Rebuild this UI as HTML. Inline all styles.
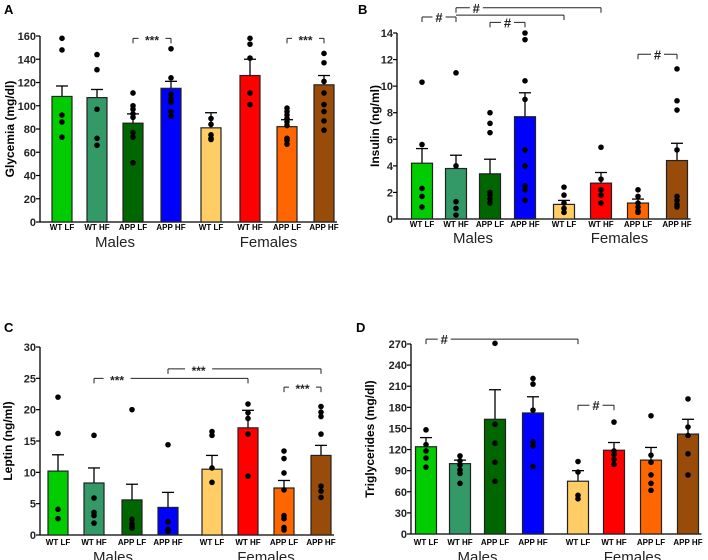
<!DOCTYPE html>
<html><head><meta charset="utf-8">
<style>
body{margin:0;background:#fff;}
svg{display:block;font-family:"Liberation Sans",Arial,sans-serif;}
</style></head>
<body>
<svg id="chart" width="708" height="560" viewBox="0 0 708 560" xmlns="http://www.w3.org/2000/svg"></svg>
<script>
const groups = ["WT LF","WT HF","APP LF","APP HF","WT LF","WT HF","APP LF","APP HF"];
const colors = ["#00cc00","#339966","#006600","#0000ff","#ffcc66","#ff0000","#ff6600","#994c0a"];

const glyMeans = [108,107,85,115,81,126,82,118];
const glyErr = [117,114,93,121,94,140,88,126];
const glyPoints = [[158,148,92,86,73],[144,131,97,72,66],[111,100,97,93,90,77,73,51],[149,124,110,106,103,95,91],[89,84,75,72,71],[158,153,141,111,101],[98,95,92,89,86,83,72,70,67],[145,137,121,111,101,95,87,79]];
const glyTicks = [0,20,40,60,80,100,120,140,160];
const glyBrackets = [[2,3,158,"***",0.5,1,1],[6,7,158,"***",0.5,1,1]];

const insMeans = [4.2,3.8,3.4,7.7,1.1,2.7,1.2,4.4];
const insErr = [5.3,4.8,4.5,9.5,1.4,3.5,1.5,5.7];
const insPoints = [[10.3,5.6,2.3,1.7,0.9],[11.0,4.0,1.3,0.8,0.3],[8.0,7.2,6.5,2.0,1.8,1.5,1.2],[14,13.5,10.4,9.0,5.2,4.0,2.5,2.2,1.4],[2.4,1.8,1.2,0.8,0.5],[5.4,3.0,2.2,1.8,1.2],[2.2,1.7,1.2,0.9,0.6,0.5],[11.3,8.9,8.2,5.2,1.7,1.4,1.1,0.9]];
const insTicks = [0,2,4,6,8,10,12,14];
const insBrackets = [[0,1,15.2,"#",0.5,1,1],[1,5,15.9,"#",0.14,1,1],[1,4,15.35,"",0.5,0,1],[2,3,14.8,"#",0.5,1,1],[6,7,12.4,"#",0.5,1,1]];

const lepMeans = [10.2,8.3,5.6,4.4,10.5,17.1,7.5,12.7];
const lepErr = [12.8,10.7,8.1,6.8,12.7,19.9,8.7,14.3];
const lepPoints = [[22,16.2,4.1,2.6],[15.9,5.9,3.6,3.1,1.9],[20,2.5,1.8,1.4,1.1],[14.4,2.1,0.9,0.6],[16.5,15.9,10.7,8.4],[20.9,19.5,18.6,16.1,9.4],[13.4,12.2,9.9,7.2,3.1,2.6,1.2,0.8],[20.5,19.6,18.9,16.1,7.8,7.0,6.0]];
const lepTicks = [0,5,10,15,20,25,30];
const lepBrackets = [[1,5,25,"***",0.15,1,1],[3,7,26.5,"***",0.2,1,1],[6,7,23.6,"***",0.5,1,1]];

const triMeans = [124,100,163,172,75,119,105,142];
const triErr = [137,105,205,195,90,130,123,163];
const triPoints = [[148,127,118,108,95],[111,104,98,91,86,72],[271,156,129,102,75],[221,213,176,131,125,96],[103,88,55,50],[159,118,113,106,99],[168,112,102,84,72,62],[192,152,140,114,84]];
const triTicks = [0,30,60,90,120,150,180,210,240,270];
const triBrackets = [[0,4,277,"#",0.12,1,1],[4,5,183,"#",0.5,1,1]];

const NS="http://www.w3.org/2000/svg";
const svg=document.getElementById('chart');
function el(tag,attrs,parent){const e=document.createElementNS(NS,tag);for(const k in attrs)e.setAttribute(k,attrs[k]);(parent||svg).appendChild(e);return e;}

const panels=[
 {id:"glycemia",letter:"A",lx:4,ly:14,ax:40,y0:222,yTop:36,max:160,centers:[62,97,133,171,211,250,287,324],bw:20,means:glyMeans,err:glyErr,pts:glyPoints,ticks:glyTicks,br:glyBrackets,title:"Glycemia  (mg/dl)",tx:14,gy:247,ly2:230},
 {id:"insulin",letter:"B",lx:358,ly:14,ax:397,y0:219,yTop:33,max:14,centers:[422,456,490,525,564,601,638,677],bw:21,means:insMeans,err:insErr,pts:insPoints,ticks:insTicks,br:insBrackets,title:"Insulin  (ng/ml)",tx:379,gy:243,ly2:227},
 {id:"leptin",letter:"C",lx:4,ly:332,ax:40,y0:535,yTop:347,max:30,centers:[58,94,132,168,212,248,284,321],bw:20,means:lepMeans,err:lepErr,pts:lepPoints,ticks:lepTicks,br:lepBrackets,title:"Leptin (ng/ml)",tx:12,gy:562,ly2:545},
 {id:"triglycerides",letter:"D",lx:356,ly:332,ax:411,y0:534,yTop:344,max:270,centers:[426,460,495,533,578,614,651,688],bw:21,means:triMeans,err:triErr,pts:triPoints,ticks:triTicks,br:triBrackets,title:"Triglycerides  (mg/dl)",tx:374,gy:562,ly2:545}
];

panels.forEach(p=>{
  const g=el('g',{});
  
  
  const y=v=>p.y0-(v/p.max)*(p.y0-p.yTop);
  const L=el('text',{x:p.lx,y:p.ly,'font-size':13,'font-weight':'bold'},g);L.textContent=p.letter;
  
  
  const ax=el('line',{x1:p.ax,y1:p.yTop,x2:p.ax,y2:p.y0,stroke:'#000','stroke-width':1.3},g);
  
  
  const xl=el('line',{x1:p.ax,y1:p.y0,x2:p.centers[7]+p.bw/2+3,y2:p.y0,stroke:'#000','stroke-width':1.3},g);
  
  
  p.ticks.forEach(t=>{
    el('line',{x1:p.ax-4,y1:y(t),x2:p.ax,y2:y(t),stroke:'#000','stroke-width':1.2},g);
    const tt=el('text',{x:p.ax-4,y:y(t)+4,'font-size':11,'font-weight':'bold','text-anchor':'end',fill:'#222'},g);
    tt.textContent=t;
    
    
  });
  const yt=el('text',{x:p.tx,y:(p.y0+p.yTop)/2,'font-size':12,'font-weight':'bold','text-anchor':'middle',transform:`rotate(-90 ${p.tx} ${(p.y0+p.yTop)/2})`},g);
  yt.textContent=p.title;
  
  
  p.means.forEach((m,i)=>{
    const cx=p.centers[i];
    el('line',{x1:cx,y1:y(p.err[i]),x2:cx,y2:y(m),stroke:'#000','stroke-width':1.3},g);
    el('line',{x1:cx-6,y1:y(p.err[i]),x2:cx+6,y2:y(p.err[i]),stroke:'#000','stroke-width':1.3},g);
    const b=el('rect',{x:cx-p.bw/2,y:y(m),width:p.bw,height:p.y0-y(m),fill:colors[i],stroke:'#222','stroke-width':1.2},g);
    
    
    p.pts[i].forEach(v=>{
      const c=el('circle',{cx:cx,cy:y(v),r:2.8,fill:'#000'},g);
      
      
    });
    const lt=el('text',{x:cx,y:p.ly2,'font-size':8,'font-weight':'bold','text-anchor':'middle'},g);
    lt.textContent=groups[i];
    
    
  });
  [["Males",(p.centers[1]+p.centers[2])/2],["Females",(p.centers[5]+p.centers[6])/2]].forEach(([s,x])=>{
    const t=el('text',{x:x,y:p.gy,'font-size':15,'text-anchor':'middle',fill:'#222'},g);
    t.textContent=s;
    
    
  });
  p.br.forEach(b=>{
    const x1=p.centers[b[0]],x2=p.centers[b[1]],yy=y(b[2]);
    const bg=el('g',{},g);
    
    
    el('line',{x1:x1,y1:yy,x2:x2,y2:yy,stroke:'#222','stroke-width':1},bg);
    if(b[5])el('line',{x1:x1,y1:yy,x2:x1,y2:yy+5,stroke:'#222','stroke-width':1},bg);
    if(b[6])el('line',{x1:x2,y1:yy,x2:x2,y2:yy+5,stroke:'#222','stroke-width':1},bg);
    if(b[3]){
      const lx=x1+(x2-x1)*b[4];
      const w=b[3].length*7+6;
      el('rect',{x:lx-w/2,y:yy-5,width:w,height:10,fill:'#fff'},bg);
      const t=el('text',{x:lx,y:yy+(b[3]==='#'?5:6),'font-size':b[3]==='#'?13:12,'font-weight':'bold','text-anchor':'middle',fill:'#222'},bg);
      t.textContent=b[3];
    }
  });
});
</script>
</body></html>
